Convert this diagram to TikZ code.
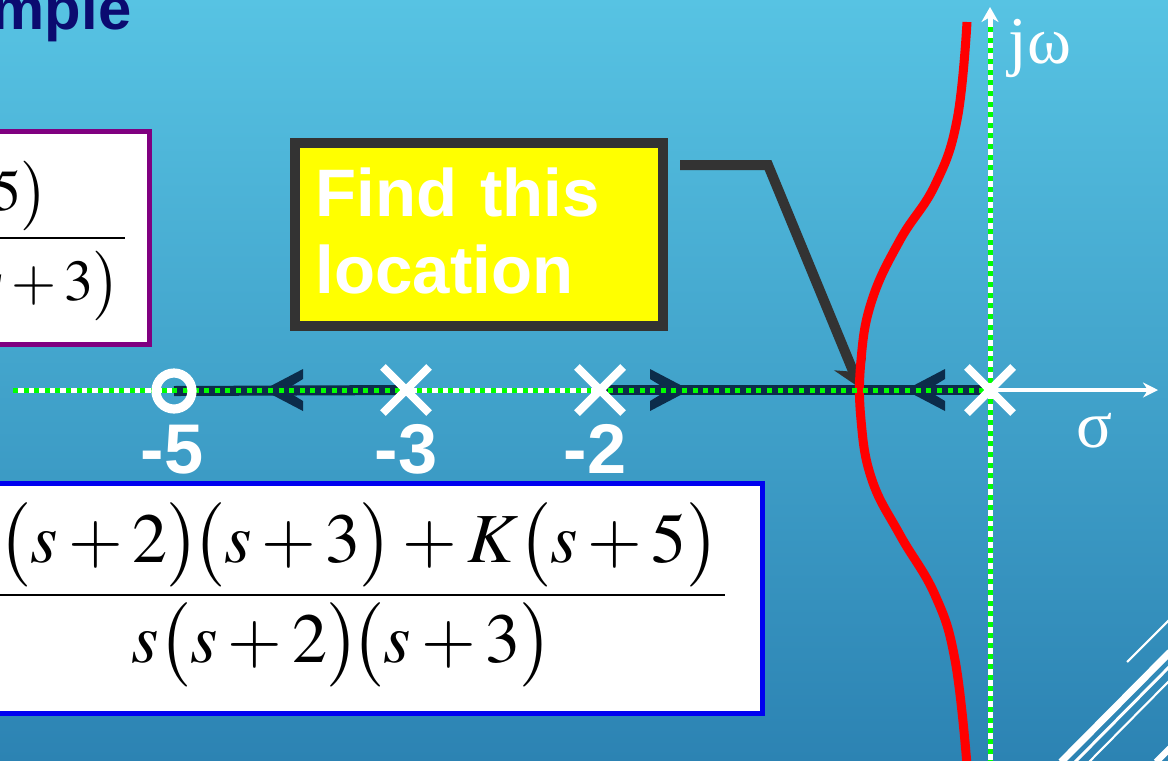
\documentclass[tikz,border=0pt]{standalone}
\usepackage{mathptmx}
\usepackage[no-math]{fontspec}
\setmainfont{Liberation Serif}
\newfontfamily\slidefont{Liberation Sans}
\usetikzlibrary{positioning, shapes.geometric, shapes.misc, arrows.meta}
\definecolor{bgtop}{HTML}{57C3E3}
\definecolor{bgbot}{HTML}{2C83B3}
\definecolor{locdark}{HTML}{0C2C4A}
\definecolor{ptrgray}{HTML}{333333}
\definecolor{dotgreen}{HTML}{00FF00}
\definecolor{titlenavy}{HTML}{0B0B70}
\definecolor{boxpurple}{HTML}{800080}
\definecolor{boxblue}{HTML}{0000F0}
\definecolor{findyellow}{HTML}{FFFF00}

\begin{document}
\begin{tikzpicture}[x=0.01cm, y=-0.01cm,
    pole/.style={cross out, draw=white, line width=2.3pt, minimum size=0.38cm, inner sep=0pt},
    zero/.style={circle, draw=white, line width=2.6pt, minimum size=0.36cm, inner sep=0pt},
    polelab/.style={text=white, font=\slidefont\bfseries\fontsize{20}{24}\selectfont, anchor=base, inner sep=0pt},
    axlab/.style={text=white, font=\fontsize{19}{22}\selectfont, inner sep=0pt},
    axbase/.style={white, line width=1.42pt},
    axdots/.style={dotgreen, line width=1.42pt, dash pattern=on 1.42pt off 1.6pt},
    band/.style={locdark, line width=2.85pt},
    chev/.style={fill=locdark},
    locus/.style={red, line width=2.56pt},
    ptr/.style={ptrgray, line width=2.85pt, -{Stealth[length=0.26cm, width=0.34cm]}},
    fracbox/.style={fill=white, line width=1.42pt},
    bar/.style={black, line width=0.8pt},
    eq/.style={inner sep=0pt, font=\fontsize{20}{24}\selectfont},
    eqs/.style={inner sep=0pt, font=\fontsize{16.5}{20}\selectfont},
    findbox/.style={draw=ptrgray, fill=findyellow, line width=2.85pt, text=white,
        font=\slidefont\bfseries\fontsize{19.1}{21.9}\selectfont, align=left,
        text width=3.26cm, inner xsep=0.21cm, minimum height=1.83cm},
    deco/.style={white}]
  \useasboundingbox (0,0) rectangle (1168,760);
  \clip (0,0) rectangle (1168,760);
  \shade[top color=bgtop, bottom color=bgbot] (0,0) rectangle (1168,760);

  % title and boxes
  \node[text=titlenavy, font=\slidefont\bfseries\fontsize{17}{20}\selectfont, anchor=base east, inner sep=0pt] (ttl) at (132,29) {mple};
  \draw[fracbox, draw=boxpurple] (-10,131.5) rectangle (149.5,344.5);
  \node[eqs, anchor=east] (gnum) at (49,196) {$5\bigr)$};
  \node[eqs, anchor=east] (gden) at (121,286) {$s+3\bigr)$};
  \draw[bar] (-5,238) -- (125,238);

  \draw[fracbox, draw=boxblue] (-10,483) rectangle (762.5,713.5);
  \node[eq, anchor=west] (num) at (-2,545) {$\bigl(s+2\bigr)\!\bigl(s+3\bigr)+K\bigl(s+5\bigr)$};
  \node[eq] (den) at (342,645) {$s\bigl(s+2\bigr)\!\bigl(s+3\bigr)$};
  \draw[bar] (-5,595) -- (725,595);

  \node[findbox] (find) at (479,234.5) {Find this\\location\rule[-0.08cm]{0pt}{0.08cm}};

  % axes
  \coordinate (origin) at (990,390);
  \coordinate (left) at (13,390);
  \coordinate (sigma) at (1158,390);
  \coordinate (top) at (990,7);
  \coordinate (bot) at (990,765);
  \coordinate (z5) at (174,391);
  \coordinate (p3) at (406,390);
  \coordinate (p2) at (600,390);
  \draw[axbase] (left) -- (origin);
  \draw[axbase, -{Stealth[length=0.15cm, width=0.17cm]}] (bot) -- (top);
  \draw[band] (z5) -- (p3);
  \draw[band] (p2) -- (origin);
  \foreach \tx/\dir in {263/1, 690/-1, 905/1}
    \fill[chev] (\tx,390) -- ++(40*\dir,-21) -- ++(0,10) -- ++(-18*\dir,11) -- ++(18*\dir,11) -- ++(0,10) -- cycle;

  % pointer and locus
  \coordinate (ptr) at (680,165);
  \coordinate (bend) at (768,165);
  \coordinate (hit) at (860,388);
  \draw[ptr] (ptr) -- (bend) -- (hit);
  \draw[locus] plot[smooth, tension=0.7] coordinates {(967,22) (957,120) (935,185) (900,240) (872,300) (861,360) (861,420) (872,480) (900,535) (935,595) (955,660) (967,765)};

  \draw[axdots] (left) -- (origin);
  \draw[axdots] (bot) -- (990,24);
  \draw[white, line width=1.14pt, -{Stealth[length=0.15cm, width=0.15cm]}] (origin) -- (sigma);

  \node[zero] (zr5) at (z5) {};
  \node[pole] (pl3) at (p3) {};
  \node[pole] (pl2) at (p2) {};
  \node[pole] (pl0) at (origin) {};
  \node[polelab] (l5) at (172,473) {-5};
  \node[polelab] (l3) at (406,473) {-3};
  \node[polelab] (l2) at (595,473) {-2};
  \node[axlab, anchor=base] (sig) at (1094,447) {σ};
  \node[axlab, anchor=base west] (jw) at (1008,63) {jω};

  % corner lines
  \draw[deco, line width=0.6pt] (1127,662) -- (1170,619);
  \draw[deco, line width=2pt] (1061,762) -- (1170,652);
  \draw[deco, line width=0.85pt] (1075,762) -- (1170,666);
  \draw[deco, line width=0.6pt] (1089,762) -- (1170,680);
  \draw[deco, line width=1.8pt] (1156,762) -- (1170,748);
\end{tikzpicture}
\end{document}
